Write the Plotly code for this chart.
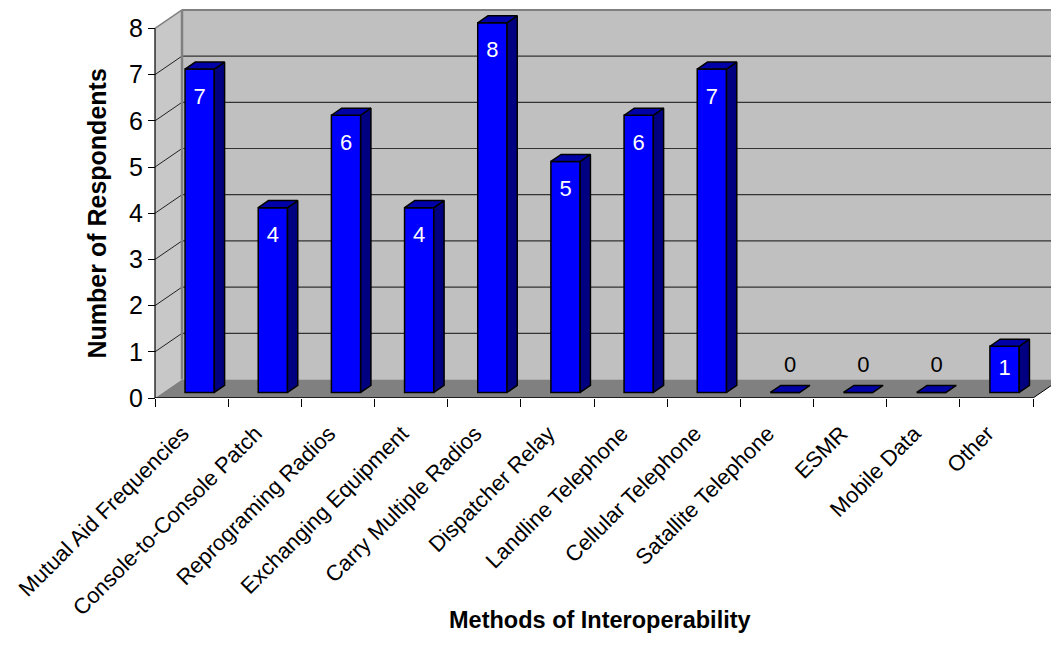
import plotly.graph_objects as go

# ---- data -----------------------------------------------------------------
categories = [
    "Mutual Aid Frequencies",
    "Console-to-Console Patch",
    "Reprograming Radios",
    "Exchanging Equipment",
    "Carry Multiple Radios",
    "Dispatcher Relay",
    "Landline Telephone",
    "Cellular Telephone",
    "Satallite Telephone",
    "ESMR",
    "Mobile Data",
    "Other",
]
respondents = [7, 4, 6, 4, 8, 5, 6, 7, 0, 0, 0, 1]
y_ticks = [0, 1, 2, 3, 4, 5, 6, 7, 8]

# ---- page / scale geometry --------------------------------------------------
W, H = 1051, 649
PX_PER_CAT = 73.17      # horizontal pixels per category slot
PX_PER_UNIT = 46.2      # vertical pixels per respondent
ORIGIN_X_PX = 155       # pixel x of the front value axis
ORIGIN_Y_PX = 398       # pixel y of the value 0 line
PLOT_LEFT_PX = 120
LABEL_SHIFT = -9 / PX_PER_CAT   # category labels sit a little left of centre

# depth of the 3-D box (data units) and of the bars inside it
DX = 27 / PX_PER_CAT
DY = 18.5 / PX_PER_UNIT
BAR_W = 0.40
F0, F1 = 0.30, 0.68     # bars occupy this slice of the box depth

FONT = "Liberation Sans, Arial, sans-serif"
FRONT_BLUE = "#0000ff"
SIDE_BLUE = "#000080"
TOP_BLUE = "#0000a8"

n = len(categories)
left, right = -0.5, n - 0.5
ymax = y_ticks[-1]
x_lo = left - (ORIGIN_X_PX - PLOT_LEFT_PX) / PX_PER_CAT
x_hi = left + (W - ORIGIN_X_PX) / PX_PER_CAT
y_hi = ORIGIN_Y_PX / PX_PER_UNIT
plot_w = W - PLOT_LEFT_PX
plot_h = ORIGIN_Y_PX


def path(pts):
    return "M " + " L ".join(f"{x},{y}" for x, y in pts) + " Z"


def seg(x0, y0, x1, y1, color, width):
    return dict(type="line", xref="x", yref="y", x0=x0, y0=y0, x1=x1, y1=y1,
                line=dict(color=color, width=width), layer="below")


shapes = []
# back wall, side wall, floor
shapes.append(dict(type="rect", xref="x", yref="y", x0=left + DX, x1=right + DX,
                   y0=DY, y1=ymax + DY, fillcolor="#c0c0c0",
                   line=dict(width=0), layer="below"))
shapes.append(dict(type="path", xref="x", yref="y",
                   path=path([(left, 0), (left, ymax), (left + DX, ymax + DY), (left + DX, DY)]),
                   fillcolor="#c8c8c8", line=dict(width=0), layer="below"))
shapes.append(dict(type="path", xref="x", yref="y",
                   path=path([(left, 0), (right, 0), (right + DX, DY), (left + DX, DY)]),
                   fillcolor="#808080", line=dict(width=0), layer="below"))
# gridlines on the walls
for k in y_ticks[1:-1]:
    shapes.append(seg(left + DX, k + DY, right + DX, k + DY, "#333333", 1.2))
    shapes.append(seg(left, k, left + DX, k + DY, "#222222", 1))
# wall edges
shapes.append(seg(left + DX, ymax + DY, right + DX, ymax + DY, "#808080", 2))
shapes.append(seg(left, ymax, left + DX, ymax + DY, "#808080", 1.5))
shapes.append(seg(left + DX, DY, left + DX, ymax + DY, "#808080", 2.5))
# front value axis and floor edges
shapes.append(seg(left, 0, left, ymax, "#000000", 1.2))
shapes.append(seg(left, 0, right, 0, "#000000", 1.5))
shapes.append(seg(right, 0, right + DX, DY, "#000000", 1))

# ---- bars -----------------------------------------------------------------
b0, b1 = F0 * DY, F1 * DY
dd = (F1 - F0) * DX
front_x = [i + F0 * DX for i in range(n)]

side_x, side_y, top_x, top_y = [], [], [], []
for i, v in enumerate(respondents):
    xr = front_x[i] + BAR_W / 2
    xl = front_x[i] - BAR_W / 2
    if v > 0:
        side_x += [xr, xr, xr + dd, xr + dd, xr, None]
        side_y += [b0, v + b0, v + b1, b1, b0, None]
    top_x += [xl, xr, xr + dd, xl + dd, xl, None]
    top_y += [v + b0, v + b0, v + b1, v + b1, v + b0, None]

fig = go.Figure()
fig.add_trace(go.Bar(
    x=front_x, y=respondents, base=b0, width=BAR_W,
    marker=dict(color=FRONT_BLUE, line=dict(color="#000000", width=1.5)),
    showlegend=False, hoverinfo="skip",
))
fig.add_trace(go.Scatter(
    x=side_x, y=side_y, mode="lines", fill="toself", fillcolor=SIDE_BLUE,
    line=dict(color="#000000", width=1.5), showlegend=False, hoverinfo="skip",
))
fig.add_trace(go.Scatter(
    x=top_x, y=top_y, mode="lines", fill="toself", fillcolor=TOP_BLUE,
    line=dict(color="#000000", width=1.5), showlegend=False, hoverinfo="skip",
))

# value labels: white inside the bar, black above an empty slot
in_x, in_y, in_t, out_x, out_y, out_t = [], [], [], [], [], []
for i, v in enumerate(respondents):
    if v > 0:
        in_x.append(front_x[i])
        in_y.append(max(v + b0 - 0.63, b0 + v / 2))
        in_t.append(str(v))
    else:
        out_x.append(front_x[i] + dd / 2)
        out_y.append(v + b1 + 0.42)
        out_t.append(str(v))
fig.add_trace(go.Scatter(
    x=in_x, y=in_y, text=in_t, mode="text", textposition="middle center",
    textfont=dict(family=FONT, size=22, color="#ffffff"),
    showlegend=False, hoverinfo="skip",
))
fig.add_trace(go.Scatter(
    x=out_x, y=out_y, text=out_t, mode="text", textposition="middle center",
    textfont=dict(family=FONT, size=22, color="#000000"),
    showlegend=False, hoverinfo="skip",
))

fig.update_layout(
    width=W, height=H, autosize=False,
    margin=dict(l=PLOT_LEFT_PX, r=0, t=0, b=H - ORIGIN_Y_PX, pad=0),
    paper_bgcolor="#ffffff", plot_bgcolor="#ffffff",
    shapes=shapes,
    xaxis=dict(
        range=[x_lo, x_hi], tickmode="array",
        tickvals=[i + LABEL_SHIFT for i in range(n)],
        ticktext=categories, tickangle=-45,
        ticks="outside", ticklen=13, tickcolor="rgba(0,0,0,0)",
        tickfont=dict(family=FONT, size=22, color="#000000"),
        showgrid=False, zeroline=False, showline=False, fixedrange=True,
    ),
    xaxis2=dict(
        range=[x_lo, x_hi], overlaying="x", anchor="y", side="bottom",
        tickmode="array", tickvals=[k - 0.5 for k in range(n + 1)],
        ticks="outside", ticklen=8, tickwidth=1, tickcolor="#000000",
        showticklabels=False, showgrid=False, zeroline=False, showline=False,
    ),
    yaxis=dict(
        range=[0, y_hi], tickmode="array", tickvals=y_ticks,
        anchor="free", position=(ORIGIN_X_PX - PLOT_LEFT_PX) / plot_w,
        ticks="outside", ticklen=7, tickwidth=1, tickcolor="#000000",
        tickfont=dict(family=FONT, size=25, color="#000000"),
        showgrid=False, zeroline=False, showline=False, fixedrange=True,
    ),
    annotations=[
        dict(text="<b>Number of Respondents</b>", xref="paper", yref="paper",
             x=(96 - PLOT_LEFT_PX) / plot_w, y=(plot_h - 213.5) / plot_h,
             xanchor="center", yanchor="middle", textangle=-90, showarrow=False,
             font=dict(family=FONT, size=25, color="#000000")),
        dict(text="<b>Methods of Interoperability</b>", xref="paper", yref="paper",
             x=(600 - PLOT_LEFT_PX) / plot_w, y=(plot_h - 620) / plot_h,
             xanchor="center", yanchor="middle", showarrow=False,
             font=dict(family=FONT, size=23.5, color="#000000")),
    ],
)
# an empty trace keeps the boundary tick axis visible
fig.add_trace(go.Scatter(x=[None], y=[None], xaxis="x2", yaxis="y",
                         showlegend=False, hoverinfo="skip"))

fig.write_html("out.html")
